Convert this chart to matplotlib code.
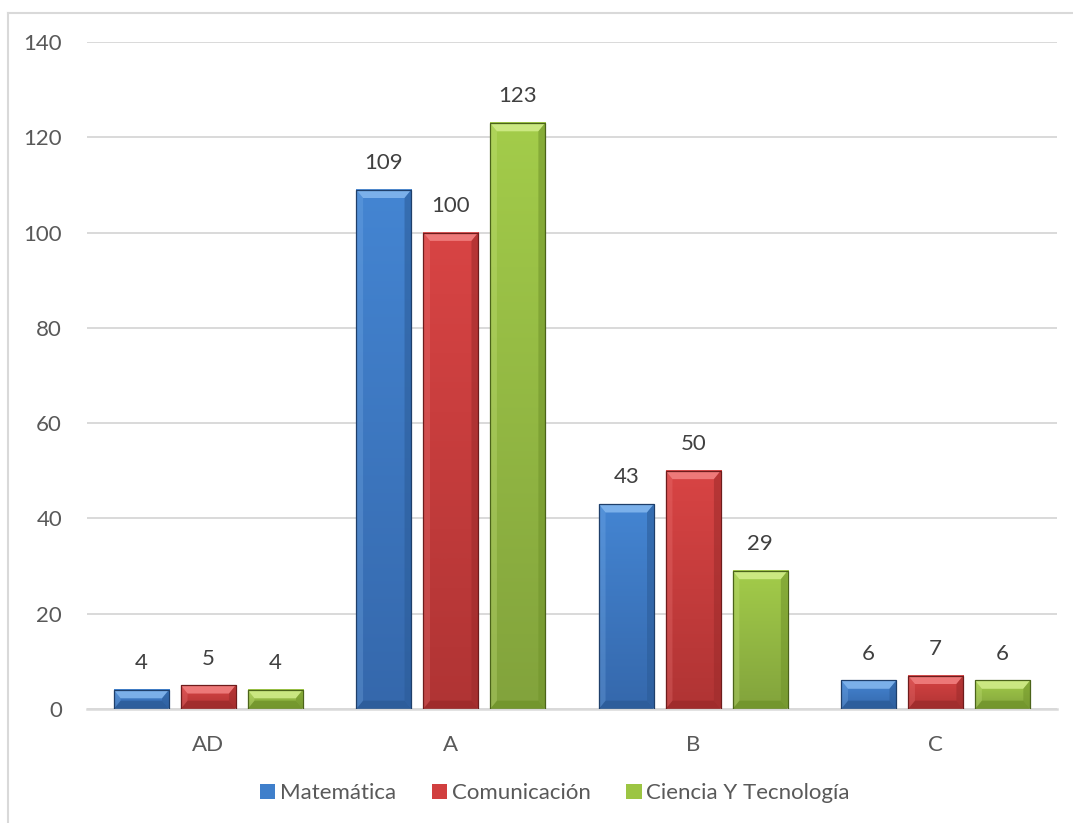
import matplotlib
matplotlib.use("Agg")
import matplotlib.pyplot as plt
from matplotlib.patches import Polygon, Rectangle
from matplotlib.lines import Line2D
from matplotlib.colors import to_rgb
import numpy as np

categories = ["AD", "A", "B", "C"]
series_names = ["Matemática", "Comunicación", "Ciencia Y Tecnología"]
matematica = [4, 109, 43, 6]
comunicacion = [5, 100, 50, 7]
ciencia = [4, 123, 29, 6]
y_ticks = [0, 20, 40, 60, 80, 100, 120, 140]

# base, light facet, dark facet, outline, top of gradient, bottom of gradient
palette = [
    ("#3f7fcb", "#86b9ef", "#2b5b97", "#1f3f6a", "#4485d2", "#3568ac"),
    ("#d13f3f", "#f38383", "#9c2b2b", "#6e1c1c", "#d84444", "#b03434"),
    ("#9cc543", "#d3ee8c", "#70932a", "#4b631a", "#a3cc4a", "#82a33c"),
]

plt.rcParams["font.family"] = ["Lato", "DejaVu Sans"]
text_color = "#595959"
grid_color = "#d9d9d9"
fs = 16

fig = plt.figure(figsize=(10.73, 8.23), dpi=100)
ax = fig.add_axes([0.0811, 0.1385, 0.9039, 0.8105])

x = np.arange(len(categories))
bar_w = 0.227
step = 0.276
bevel_x = 0.028
bevel_y = 1.75

def bevel(ax, rect, cols):
    base, light, dark, edge, top, bottom = cols
    x0, y0 = rect.get_x(), rect.get_y()
    w, h = rect.get_width(), rect.get_height()
    x1, y1 = x0 + w, y0 + h
    # vertical shading of the front face
    t = np.linspace(0, 1, 64)[:, None]
    grad = (1 - t) * np.array(to_rgb(top)) + t * np.array(to_rgb(bottom))
    ax.imshow(grad[:, None, :].repeat(2, axis=1), extent=(x0, x1, y0, y1),
              aspect="auto", origin="upper", zorder=2.5, interpolation="bilinear")
    bx = min(bevel_x, w / 2)
    by = min(bevel_y, h / 2)
    ix0, ix1, iy0, iy1 = x0 + bx, x1 - bx, y0 + by, y1 - by
    facets = [
        ([(x0, y1), (x1, y1), (ix1, iy1), (ix0, iy1)], light, 0.85),
        ([(x0, y0), (x1, y0), (ix1, iy0), (ix0, iy0)], dark, 0.8),
        ([(x0, y0), (x0, y1), (ix0, iy1), (ix0, iy0)], light, 0.25),
        ([(x1, y0), (x1, y1), (ix1, iy1), (ix1, iy0)], dark, 0.55),
    ]
    for pts, c, a in facets:
        ax.add_patch(Polygon(pts, closed=True, facecolor=c, edgecolor="none",
                             alpha=a, zorder=3))
    ax.add_patch(Rectangle((x0, y0), w, h, facecolor="none", edgecolor=edge,
                           linewidth=0.9, zorder=4))

for i, (vals, name) in enumerate(zip([matematica, comunicacion, ciencia], series_names)):
    cols = palette[i]
    bars = ax.bar(x + (i - 1) * step, vals, bar_w, color=cols[0], label=name,
                  zorder=2, linewidth=0)
    for rect, v in zip(bars, vals):
        bevel(ax, rect, cols)
        ax.text(rect.get_x() + rect.get_width() / 2, v + 5.6, str(v),
                ha="center", va="center", fontsize=fs, color="#404040")

ax.set_xlim(-0.5, len(categories) - 0.5)
ax.set_ylim(0, 140)
ax.set_yticks(y_ticks)
ax.set_xticks(x)
ax.set_xticklabels(categories)
ax.yaxis.grid(True, color=grid_color, linewidth=1.4, zorder=0)
ax.set_axisbelow(True)
for side in ["top", "right", "left"]:
    ax.spines[side].set_visible(False)
ax.spines["bottom"].set_color(grid_color)
ax.spines["bottom"].set_linewidth(1.8)
ax.tick_params(axis="both", length=0, labelsize=fs, labelcolor=text_color)
ax.tick_params(axis="y", pad=18)
ax.tick_params(axis="x", pad=19)

leg = fig.legend(loc="center", bbox_to_anchor=(0.517, 0.036), ncol=3, frameon=False,
                 fontsize=fs, handlelength=0.7, handleheight=0.7,
                 handletextpad=0.2, columnspacing=1.6)
for t in leg.get_texts():
    t.set_color(text_color)

# outer chart frame
fig.add_artist(Line2D([0.0075, 0.0075], [0.0, 0.984], color=grid_color, linewidth=1.5))
fig.add_artist(Line2D([0.0075, 1.0], [0.984, 0.984], color=grid_color, linewidth=1.5))

fig.savefig("out.png", dpi=100)
